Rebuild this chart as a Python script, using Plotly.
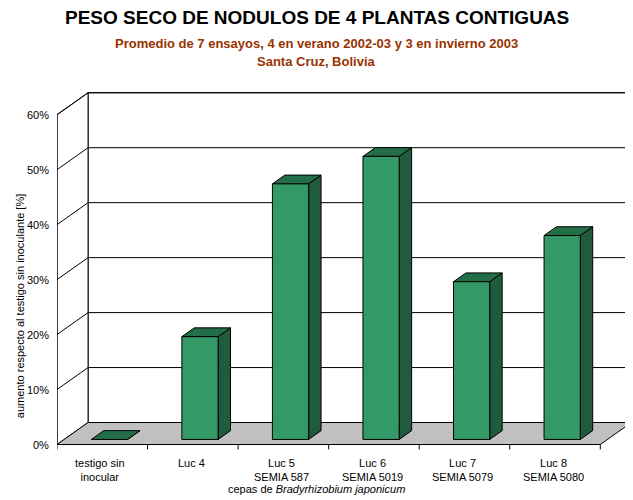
import plotly.graph_objects as go

categories = ["testigo sin<br>inocular", "Luc 4", "Luc 5<br>SEMIA 587", "Luc 6<br>SEMIA 5019", "Luc 7<br>SEMIA 5079", "Luc 8<br>SEMIA 5080"]
values = [0, 18.7, 46.5, 51.5, 28.7, 37.1]
yticks = [0, 10, 20, 30, 40, 50, 60]

DX, DY = 0.343, 4.0   # full depth offset (category units, percent)
F0, FD = 0.23, 0.40   # bar depth start and depth length (fractions)
BW = 0.40
n = len(categories)
ymax = 60
XR = [0, 6.35]
YR = [-1, 64.5]
def px(x): return (x - XR[0]) / (XR[1] - XR[0])
def py(y): return (y - YR[0]) / (YR[1] - YR[0])

fig = go.Figure()
def poly(xs, ys, fill, lw=1):
    fig.add_trace(go.Scatter(x=xs + [xs[0]], y=ys + [ys[0]], mode="lines", fill="toself" if fill else None,
                             fillcolor=fill, line=dict(color="black", width=lw), hoverinfo="skip", showlegend=False,
                             cliponaxis=False))
def line(xs, ys, w=1):
    fig.add_trace(go.Scatter(x=xs, y=ys, mode="lines", line=dict(color="black", width=w), hoverinfo="skip",
                             showlegend=False, cliponaxis=False))

poly([DX, n + DX, n + DX, DX], [DY, DY, ymax + DY, ymax + DY], "white")
poly([0, DX, DX, 0], [0, DY, ymax + DY, ymax], "white")
poly([0, n, n + DX, DX], [0, 0, DY, DY], "#c0c0c0")
for v in yticks[1:]:
    line([0, DX, n + DX], [v, v + DY, v + DY])
line([0, 0], [0, ymax])
for v in yticks:
    line([-0.05, 0], [v, v])
for i in range(n + 1):
    line([i, i], [0, -0.9])

for i, v in enumerate(values):
    x0 = i + 0.5 - BW / 2 + F0 * DX
    x1 = x0 + BW
    yb = F0 * DY
    ox, oy = FD * DX, FD * DY
    poly([x1, x1 + ox, x1 + ox, x1], [yb, yb + oy, yb + v + oy, yb + v], "#1f5b3c")
    poly([x0, x1, x1 + ox, x0 + ox], [yb + v, yb + v, yb + v + oy, yb + v + oy], "#236e47")
    if v > 0:
        poly([x0, x1, x1, x0], [yb, yb, yb + v, yb + v], "#339966")

ann = []
for v in yticks:
    ann.append(dict(xref="paper", yref="paper", x=px(-0.07), y=py(v), text=f"{v}%", xanchor="right",
                    yanchor="middle", showarrow=False, font=dict(size=11, color="black")))
for i, c in enumerate(categories):
    ann.append(dict(xref="paper", yref="paper", x=px(i + 0.48), y=py(-2), text=c, xanchor="center",
                    yanchor="top", showarrow=False, font=dict(size=11, color="black")))
ann += [
    dict(xref="paper", yref="paper", x=0.5, y=-0.13, text="cepas de <i>Bradyrhizobium japonicum</i>",
         showarrow=False, xanchor="center", yanchor="bottom", font=dict(size=11, color="black"), xshift=-28),
    dict(xref="paper", yref="paper", x=-0.078, y=0.4, text="aumento respecto al testigo sin inoculante [%]",
         textangle=-90, showarrow=False, font=dict(size=11, color="black")),
    dict(xref="paper", yref="paper", x=0.5, y=1.235, text="<b>PESO SECO DE NODULOS DE 4 PLANTAS CONTIGUAS</b>",
         showarrow=False, font=dict(size=19, color="black"), xshift=-28),
    dict(xref="paper", yref="paper", x=0.5, y=1.155, text="<b>Promedio de 7 ensayos, 4 en verano 2002-03 y 3 en invierno 2003</b>",
         showarrow=False, font=dict(size=13, color="#993300"), xshift=-28),
    dict(xref="paper", yref="paper", x=0.5, y=1.105, text="<b>Santa Cruz, Bolivia</b>",
         showarrow=False, font=dict(size=13, color="#993300"), xshift=-28),
]

fig.update_layout(
    width=625, height=492, margin=dict(l=49, r=1, t=82, b=50),
    paper_bgcolor="white", plot_bgcolor="white",
    font=dict(family="Arial, Liberation Sans, sans-serif"),
    xaxis=dict(range=XR, visible=False, fixedrange=True),
    yaxis=dict(range=YR, visible=False, fixedrange=True),
    annotations=ann,
)
fig.write_html("out.html")
